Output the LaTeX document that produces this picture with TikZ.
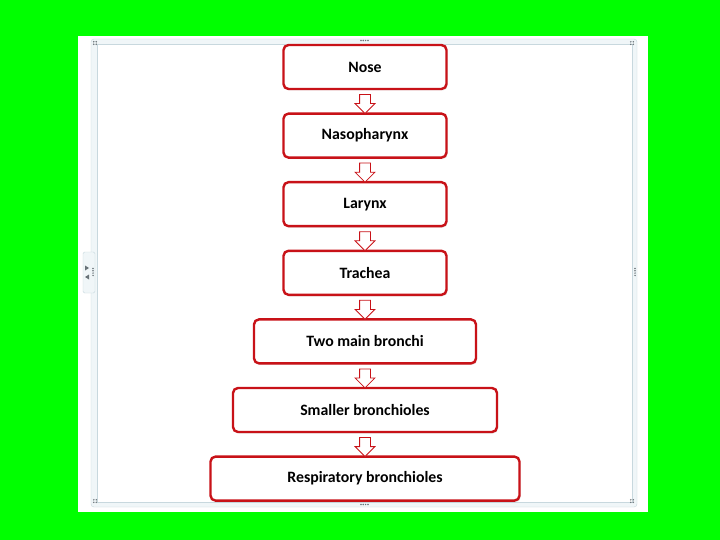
\documentclass[tikz,border=0pt]{standalone}
\usepackage{fontspec}
\setmainfont{Carlito}
\usetikzlibrary{positioning, shapes.arrows, shadows}

\definecolor{boxred}{RGB}{200,18,24}
\definecolor{framegrey}{RGB}{200,216,222}
\definecolor{frameband}{RGB}{240,246,248}
\definecolor{gripgrey}{RGB}{105,115,120}
\definecolor{screengreen}{RGB}{0,255,0}

\begin{document}
\begin{tikzpicture}[x=1pt, y=-1pt, node distance=22.2pt,
    stage/.style={draw=boxred, line width=2.4pt, rounded corners=5pt, fill=white,
        minimum height=44pt, font=\bfseries\fontsize{15.8}{18}\selectfont,
        drop shadow={opacity=0.18, shadow xshift=1.2pt, shadow yshift=-1.5pt}},
    downarrow/.style={single arrow, draw=boxred, line width=0.8pt, fill=white,
        rotate=-90, minimum height=19pt, inner xsep=0pt, inner ysep=5pt,
        single arrow head extend=4.5pt, single arrow head indent=0pt},
    grip/.style={fill=gripgrey, circle, inner sep=0pt, minimum size=1.7pt}]
    \useasboundingbox (0,0) rectangle (720,540);

    % screen and slide frame
    \fill[screengreen] (0,0) rectangle (720,540);
    \fill[white] (78,36) rectangle (648,512);
    \draw[framegrey, fill=frameband, rounded corners=3pt] (91,39) rectangle (637,507);
    \draw[framegrey, fill=white] (97,44) rectangle (632,502);
    \draw[framegrey, fill=frameband, rounded corners=1.5pt] (83,252) rectangle (95,293);
    \fill[gripgrey] (85,265.5) -- (89,268) -- (85,270.5) -- cycle;
    \fill[gripgrey] (89,274.5) -- (85,277) -- (89,279.5) -- cycle;
    \foreach \i in {0,1,2,3} {
        \node[grip] at (361+2.3*\i,40.5) {};
        \node[grip] at (361+2.3*\i,504.5) {};
        \node[grip] at (635,268.5+2.3*\i) {};
        \node[grip] at (93,268.5+2.3*\i) {};
    }
    \foreach \cx/\cy in {95/43, 632/43, 95/501, 632/501} {
        \foreach \dx/\dy in {0/0, 2.5/0, 0/2.5, 2.5/2.5}
            \node[grip] at (\cx-1.2+\dx,\cy-1.2+\dy) {};
    }

    % airway stages
    \node[stage, minimum width=163pt] (nose) at (365,67) {Nose};
    \node[stage, minimum width=163pt, below = of nose] (naso) {Nasopharynx};
    \node[stage, minimum width=163pt, below = of naso] (larynx) {Larynx};
    \node[stage, minimum width=163pt, below = of larynx] (trachea) {Trachea};
    \node[stage, minimum width=222pt, below = of trachea] (bronchi) {Two main bronchi};
    \node[stage, minimum width=264pt, below = of bronchi] (smaller) {Smaller bronchioles};
    \node[stage, minimum width=309pt, below = of smaller] (resp) {Respiratory bronchioles};

    \foreach \a/\b in {nose/naso, naso/larynx, larynx/trachea, trachea/bronchi,
                       bronchi/smaller, smaller/resp}
        \path (\a) -- (\b) node[midway, downarrow] {};
\end{tikzpicture}
\end{document}
